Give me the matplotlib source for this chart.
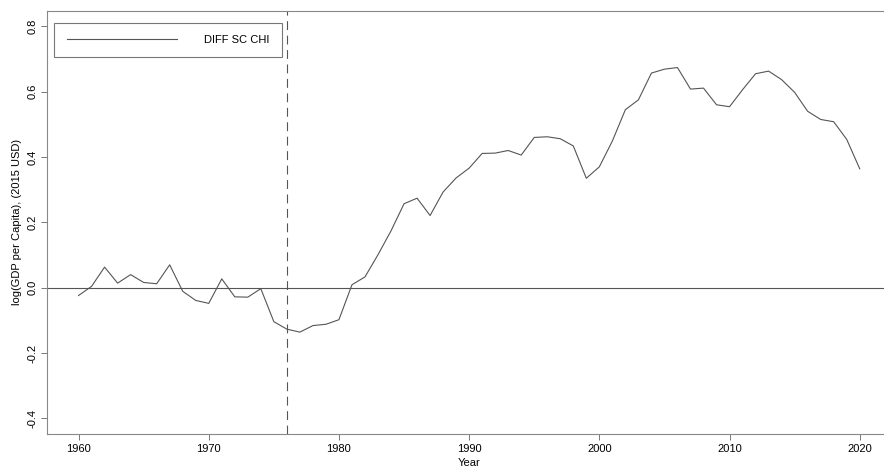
import matplotlib
matplotlib.use("Agg")
import matplotlib.pyplot as plt

plt.rcParams['font.family'] = ['Liberation Sans', 'DejaVu Sans']

# разница log ВВП на душу, SC минус CHI
years = list(range(1960, 2021))
diff_sc_chi = [
    -0.024, 0.004, 0.063, 0.014, 0.040, 0.016, 0.012, 0.070, -0.011, -0.039,
    -0.048, 0.027, -0.028, -0.029, -0.003, -0.104, -0.127, -0.136, -0.116, -0.112,
    -0.098, 0.009, 0.033, 0.101, 0.174, 0.257, 0.274, 0.221, 0.293, 0.336,
    0.366, 0.411, 0.412, 0.420, 0.406, 0.460, 0.462, 0.456, 0.434, 0.335,
    0.370, 0.449, 0.545, 0.575, 0.657, 0.669, 0.674, 0.608, 0.611, 0.560,
    0.554, 0.606, 0.655, 0.663, 0.637, 0.598, 0.540, 0.515, 0.508, 0.454,
    0.364,
]
treat_year = 1976
x_ticks = [1960, 1970, 1980, 1990, 2000, 2010, 2020]
y_ticks = [-0.4, -0.2, 0.0, 0.2, 0.4, 0.6, 0.8]

fig = plt.figure(figsize=(8.84, 4.71), dpi=100)
# правый край рамки уходит за картинку, как в оригинале
ax = fig.add_axes([0.0535, 0.0785, 0.9544, 0.8988])

grey = '#555555'
ax.plot(years, diff_sc_chi, color=grey, lw=0.8, label='DIFF SC CHI')
ax.axhline(0, color=grey, lw=0.8)
ax.axvline(treat_year, color=grey, lw=0.8, ls=(0, (8, 5)))

ax.set_xlim(1957.6, 2022.4)
ax.set_ylim(-0.448, 0.848)
ax.set_xticks(x_ticks)
ax.set_yticks(y_ticks)
ax.set_yticklabels(['%.1f' % v for v in y_ticks], rotation=90, va='center')
ax.tick_params(labelsize=8, length=4, color='#777777', width=0.7, pad=3)

for s in ax.spines.values():
    s.set_color('#888888')
    s.set_linewidth(0.8)

ax.set_xlabel('Year', fontsize=8, labelpad=3)
ax.set_ylabel('log(GDP per Capita), (2015 USD)', fontsize=8, labelpad=4)

leg = ax.legend(loc='upper left', bbox_to_anchor=(0.0084, 0.972), borderaxespad=0,
                fontsize=8, fancybox=False, handlelength=9.9, handletextpad=2.5,
                borderpad=1.1)
leg.get_frame().set_edgecolor('#555555')
leg.get_frame().set_linewidth(0.8)

fig.savefig('out.png', dpi=100)
